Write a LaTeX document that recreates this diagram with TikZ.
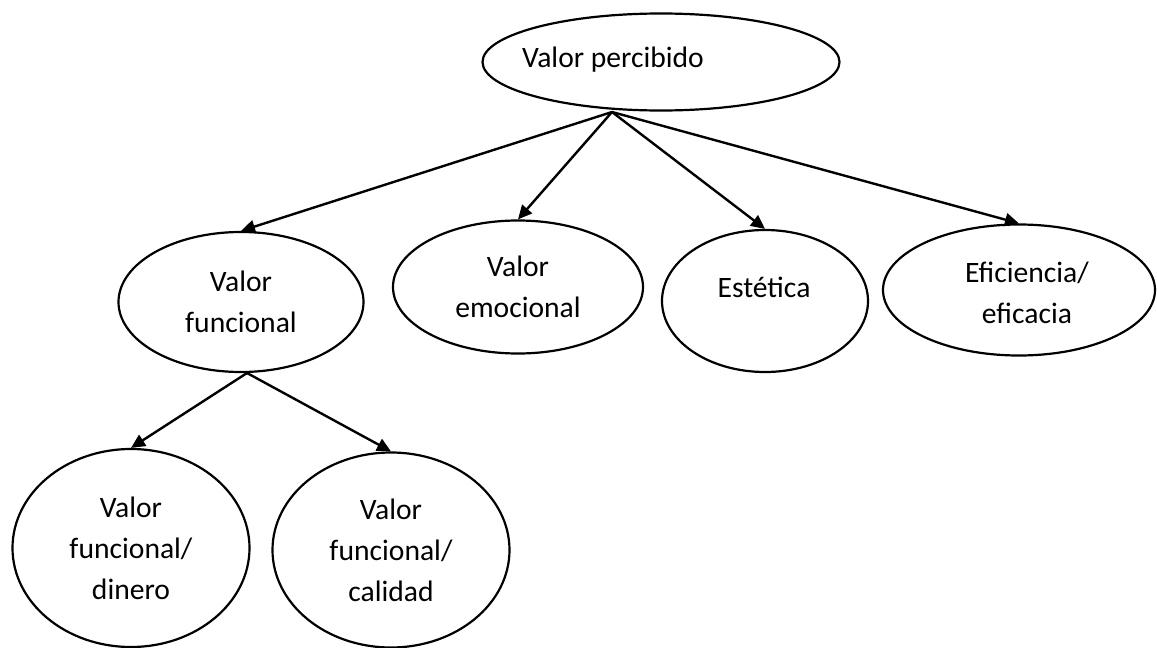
\documentclass[tikz,border=0pt]{standalone}
\usepackage{fontspec}
\setmainfont{Carlito}
\usepackage{tikz}
\usetikzlibrary{positioning, shapes.geometric, arrows.meta}

\tikzset{
  oval/.style={draw, ellipse, line width=1.1pt, inner sep=0pt, align=center},
  conn/.style={line width=1.2pt, -{Triangle[length=7pt, width=6.5pt]}}
}

\begin{document}
\begin{tikzpicture}[x=0.5pt, y=-0.5pt] % one unit = one pixel of the reference
            \fontsize{14.8}{20.5}\selectfont
            \useasboundingbox (0,0) rectangle (1157,648);

            % 1. Root
            \node[oval, minimum width=178.5pt, minimum height=48.5pt] (perc) at (661,62) {};
            \node[anchor=base] (perc-t) at (613,67) {Valor percibido};
            \coordinate (perc-out) at (612,112);

            % 2. Second level
            \node[oval, minimum width=122.5pt, minimum height=70pt] (func) at (241,302) {Valor\\funcional};
            \node[oval, minimum width=125pt, minimum height=66.5pt] (emoc) at (518,287) {Valor\\emocional};
            \node[oval, minimum width=103pt, minimum height=71pt] (est) at (765,301) {};
            \node[anchor=base] (est-t) at (764,297) {Estética};
            \node[oval, minimum width=136pt, minimum height=65.5pt] (efic) at (1019,290) {};
            \node[anchor=base, align=center] (efic-t) at (1027,323) {Eficiencia/\\eficacia};
            \coordinate (func-out) at (247,373);

            % 3. Third level
            \node[oval, minimum width=118.5pt, minimum height=99pt] (dinero) at (131,548) {Valor\\funcional/\\dinero};
            \node[oval, minimum width=118.5pt, minimum height=97.5pt] (calidad) at (391,550) {Valor\\funcional/\\calidad};

            % 4. Connectors
            \draw[conn] (perc-out) -- (func.north);
            \draw[conn] (perc-out) -- (emoc.north);
            \draw[conn] (perc-out) -- (est.north);
            \draw[conn] (perc-out) -- (efic.north);
            \draw[conn] (func-out) -- (dinero.north);
            \draw[conn] (func-out) -- (calidad.north);
        \end{tikzpicture}
\end{document}
